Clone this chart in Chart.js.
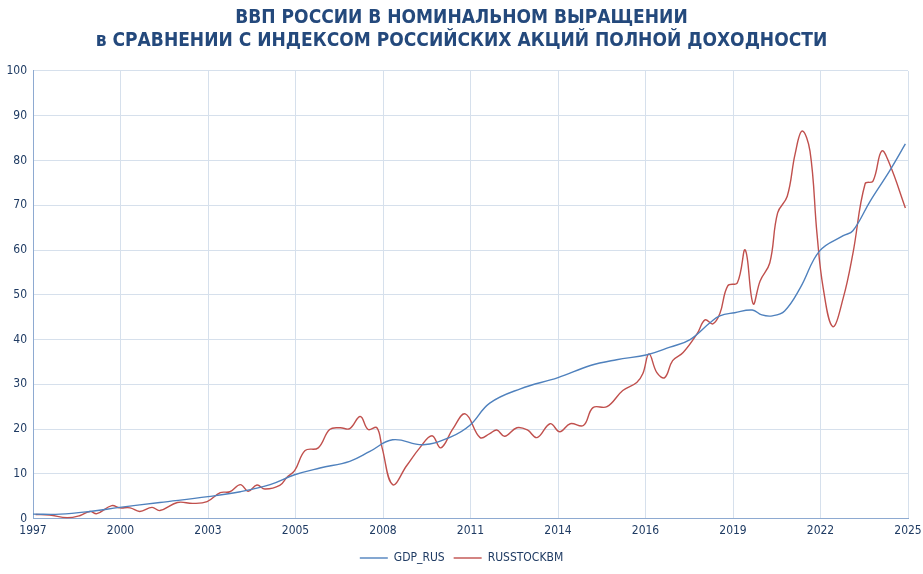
<!DOCTYPE html>
<html>
<head>
<meta charset="utf-8">
<script src="https://cdn.jsdelivr.net/npm/chart.js@4.4.1/dist/chart.umd.min.js"></script>
<style>
  html, body { margin: 0; padding: 0; background: #fff; }
  #wrap { width: 923px; height: 574px; }
</style>
</head>
<body>
<div id="wrap"><canvas id="gdpChart" width="923" height="574"></canvas></div>
<script>
const titleLines = ["ВВП РОССИИ В НОМИНАЛЬНОМ ВЫРАЩЕНИИ", "в СРАВНЕНИИ С ИНДЕКСОМ РОССИЙСКИХ АКЦИЙ ПОЛНОЙ ДОХОДНОСТИ"];
const xTickLabels = ["1997", "2000", "2003", "2005", "2008", "2011", "2014", "2016", "2019", "2022", "2025"];
const seriesNames = ["GDP_RUS", "RUSSTOCKBM"];

// position along the axis (0..100, ten steps per labelled tick) and value
const gdpPos = [0, 3.1, 6.5, 9.9, 14.5, 20.0, 23.7, 27.1, 29.9, 32.8, 36.2, 38.5, 41.1, 44.6, 47.7, 49.9, 52.2, 55.7, 60.0, 63.7, 66.7, 70.2, 72.8, 75.1, 77.4, 78.5, 80.2, 82.2, 83.3, 84.5, 85.9, 87.7, 89.9, 92.6, 93.7, 95.7, 97.9, 99.7];
const gdpVal = [1.0, 1.0, 1.6, 2.5, 3.6, 4.9, 6.0, 7.6, 9.8, 11.3, 12.8, 15.0, 17.6, 16.5, 18.2, 20.8, 25.8, 29.0, 31.5, 34.2, 35.5, 36.6, 38.3, 40.0, 43.8, 45.3, 46.0, 46.6, 45.5, 45.3, 46.4, 51.6, 59.8, 63.2, 64.3, 71.0, 77.7, 83.7];

const stockPos = [0.3, 1.9, 3.9, 5.4, 6.5, 7.3, 9.0, 9.9, 11.1, 12.2, 13.6, 14.5, 16.5, 18.3, 19.9, 21.4, 22.5, 23.7, 24.6, 25.6, 26.5, 28.2, 29.0, 29.9, 31.1, 32.6, 33.9, 35.1, 36.2, 37.4, 38.3, 39.3, 39.9, 41.1, 42.7, 44.2, 45.6, 46.6, 48.0, 49.4, 51.1, 52.2, 53.0, 53.9, 55.3, 56.5, 57.6, 59.1, 60.2, 61.4, 62.9, 64.0, 65.6, 67.4, 69.0, 69.7, 70.4, 71.3, 72.2, 73.1, 74.3, 75.9, 76.8, 77.7, 78.5, 79.4, 80.5, 81.4, 82.3, 83.1, 84.2, 85.1, 86.2, 87.1, 87.9, 88.8, 89.6, 90.3, 91.4, 92.6, 93.7, 95.1, 96.0, 97.0, 97.9, 99.7];
const stockVal = [0.9, 0.8, 0.2, 0.7, 1.6, 1.1, 2.9, 2.4, 2.4, 1.6, 2.5, 1.8, 3.6, 3.4, 3.8, 5.8, 6.0, 7.6, 6.1, 7.5, 6.6, 7.4, 9.2, 10.7, 15.2, 15.8, 19.9, 20.3, 20.1, 22.8, 19.9, 20.3, 15.8, 7.6, 11.8, 15.8, 18.5, 15.8, 20.1, 23.4, 18.1, 19.0, 19.8, 18.4, 20.3, 19.8, 18.1, 21.2, 19.4, 21.2, 20.8, 24.8, 25.0, 28.6, 30.4, 32.4, 36.8, 32.6, 31.5, 35.3, 37.1, 41.3, 44.4, 43.5, 45.8, 52.0, 52.7, 60.0, 48.0, 53.1, 57.1, 68.3, 72.0, 81.5, 86.6, 82.1, 63.6, 51.6, 42.9, 49.3, 59.2, 74.8, 75.4, 82.1, 79.2, 69.4];

const toPoints = (xs, ys) => xs.map((x, i) => ({ x, y: ys[i] }));

const FONT = "'DejaVu Sans Condensed', 'DejaVu Sans', sans-serif";
const TEXT = "#1f3b63";

new Chart(document.getElementById("gdpChart").getContext("2d"), {
  type: "line",
  data: {
    datasets: [
      { label: seriesNames[0], data: toPoints(gdpPos, gdpVal), borderColor: "#4f81bd", backgroundColor: "#4f81bd", borderWidth: 1.4, pointRadius: 0, tension: 0.4 },
      { label: seriesNames[1], data: toPoints(stockPos, stockVal), borderColor: "#c0504d", backgroundColor: "#c0504d", borderWidth: 1.4, pointRadius: 0, tension: 0.4 }
    ]
  },
  options: {
    responsive: false,
    animation: false,
    layout: { padding: { left: 2, right: 2, top: 5, bottom: 0 } },
    plugins: {
      title: {
        display: true,
        text: titleLines,
        color: "#24497c",
        font: { family: FONT, size: 19, weight: "bold", lineHeight: 1.21 },
        padding: { top: 2, bottom: 18 }
      },
      legend: {
        position: "bottom",
        labels: {
          color: TEXT,
          font: { family: FONT, size: 12 },
          usePointStyle: true,
          pointStyle: "line",
          pointStyleWidth: 28,
          padding: 9
        }
      },
      tooltip: { enabled: false }
    },
    scales: {
      x: {
        type: "linear",
        min: 0,
        max: 100,
        ticks: { stepSize: 10, color: TEXT, font: { family: FONT, size: 12 }, maxRotation: 0, padding: 5,
          callback: v => xTickLabels[Math.round(v / 10)] },
        grid: { color: "#d6e0ec", drawTicks: false },
        border: { color: "#8eaad1" },
        afterFit: s => { s.paddingRight = 15; s.paddingLeft = 0; }
      },
      y: {
        min: 0,
        max: 100,
        ticks: { stepSize: 10, color: TEXT, font: { family: FONT, size: 12 }, padding: 6 },
        grid: { color: "#d6e0ec", drawTicks: false },
        border: { color: "#8eaad1" },
        afterFit: s => { s.width = 31; }
      }
    }
  }
});
</script>
</body>
</html>
